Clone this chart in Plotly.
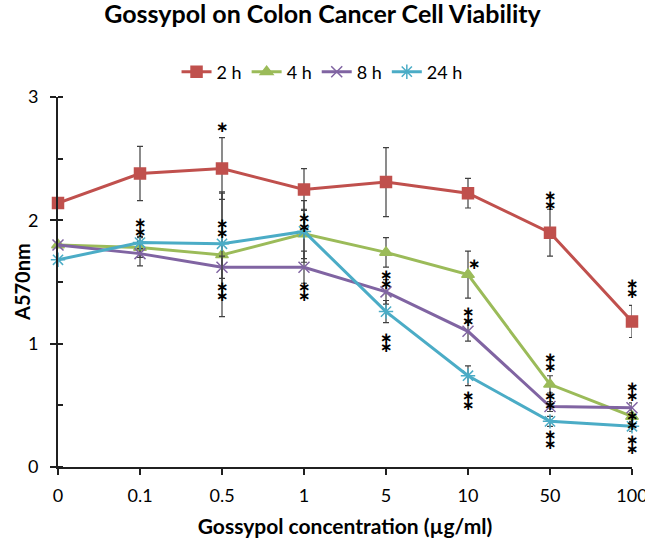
import plotly.graph_objects as go

categories = ["0", "0.1", "0.5", "1", "5", "10", "50", "100"]
series_names = ["2 h", "4 h", "8 h", "24 h"]
v_2h = [2.14, 2.38, 2.42, 2.25, 2.31, 2.22, 1.90, 1.18]
v_4h = [1.80, 1.78, 1.72, 1.89, 1.74, 1.56, 0.67, 0.41]
v_8h = [1.80, 1.73, 1.62, 1.62, 1.42, 1.10, 0.49, 0.48]
v_24h = [1.68, 1.82, 1.81, 1.91, 1.26, 0.74, 0.37, 0.33]
e_2h = [0.0, 0.22, 0.25, 0.17, 0.28, 0.12, 0.19, 0.13]
e_4h = [0.0, 0.08, 0.50, 0.20, 0.12, 0.19, 0.07, 0.05]
e_8h = [0.0, 0.10, 0.09, 0.13, 0.10, 0.08, 0.04, 0.04]
e_24h = [0.0, 0.05, 0.42, 0.25, 0.09, 0.08, 0.04, 0.04]

# significance marks: (category, y, number of stacked asterisks)
sig_cat = ["0.5", "0.1", "0.5", "0.5", "1", "1", "5", "5", "10", "10", "10",
           "50", "50", "50", "50", "100", "100", "100", "100"]
sig_y = [2.76, 1.94, 1.93, 1.42, 1.98, 1.42, 1.52, 1.01, 1.65, 1.22, 0.54,
         2.16, 0.85, 0.54, 0.22, 1.45, 0.61, 0.38, 0.18]
sig_n = [1, 2, 2, 2, 2, 2, 2, 2, 1, 2, 2, 2, 2, 2, 2, 2, 2, 2, 2]

colors = ["#C0504D", "#9BBB59", "#8064A2", "#4BACC6"]
symbols = ["square", "triangle-up", "x-thin-open", "asterisk-open"]
msizes = [11, 11, 11, 12]
values = [v_2h, v_4h, v_8h, v_24h]
errs = [e_2h, e_4h, e_8h, e_24h]

fig = go.Figure()
for name, v, e, c, s, ms in zip(series_names, values, errs, colors, symbols, msizes):
    fig.add_trace(go.Scatter(
        x=categories, y=v, name=name, mode="lines+markers",
        line=dict(color=c, width=3),
        marker=dict(symbol=s, size=ms, color=c, line=dict(color=c, width=1.5)),
        error_y=dict(type="data", array=e, visible=True, color="#404040",
                     thickness=1.2, width=3),
        cliponaxis=False,
    ))

for cat, y, n in zip(sig_cat, sig_y, sig_n):
    idx = categories.index(cat)
    shifts = [0] if n == 1 else [4.5, -4.5]
    xs = 6 if (cat == "10" and n == 1) else 0
    for sh in shifts:
        fig.add_annotation(x=idx, y=y, text="<b>∗</b>", showarrow=False,
                           xshift=xs, yshift=sh, yanchor="middle",
                           font=dict(family="DejaVu Sans", size=15, color="black"))

# y-axis title placed as rotated text
fig.add_annotation(text="<b>A570nm</b>", xref="paper", yref="paper",
                   x=-0.0627, y=0.5, xanchor="center", yanchor="middle",
                   textangle=-90, showarrow=False, font=dict(size=20, color="black"))

fig.update_layout(
    width=645, height=540,
    margin=dict(l=58, r=13, t=97, b=73, autoexpand=False),
    paper_bgcolor="white", plot_bgcolor="white",
    font=dict(family="Lato", size=18, color="black"),
    title=dict(text="<b>Gossypol on Colon Cancer Cell Viability</b>",
               x=0.5, xanchor="center", xref="container", y=0.973, yanchor="middle",
               font=dict(size=25, color="black")),
    legend=dict(orientation="h", x=0.46, xanchor="center", y=1.0676, yanchor="middle",
                font=dict(size=18), itemwidth=30, tracegroupgap=0),
    showlegend=True,
)
fig.update_xaxes(
    type="category", range=[0, 7], showgrid=False, zeroline=False, automargin=False,
    showline=True, linecolor="#202020", linewidth=1.5,
    ticks="outside", ticklen=6, tickcolor="#202020", tickwidth=1.5,
    tickfont=dict(size=18), ticklabelstandoff=6,
    title=dict(text="<b>Gossypol concentration (µg/ml)</b>", font=dict(size=21), standoff=14),
)
fig.update_yaxes(
    range=[0, 3], dtick=1, showgrid=False, zeroline=False, automargin=False,
    showline=True, linecolor="#202020", linewidth=2,
    ticks="outside", ticklen=6, tickcolor="#202020", tickwidth=2,
    tickfont=dict(size=18), ticklabelstandoff=8,
    minor=dict(dtick=0.5, ticks="inside", ticklen=5, tickcolor="#202020", tickwidth=1.5),
)

fig.write_html("out.html", config={"displayModeBar": False},
               post_script="document.body.style.margin='0';")
